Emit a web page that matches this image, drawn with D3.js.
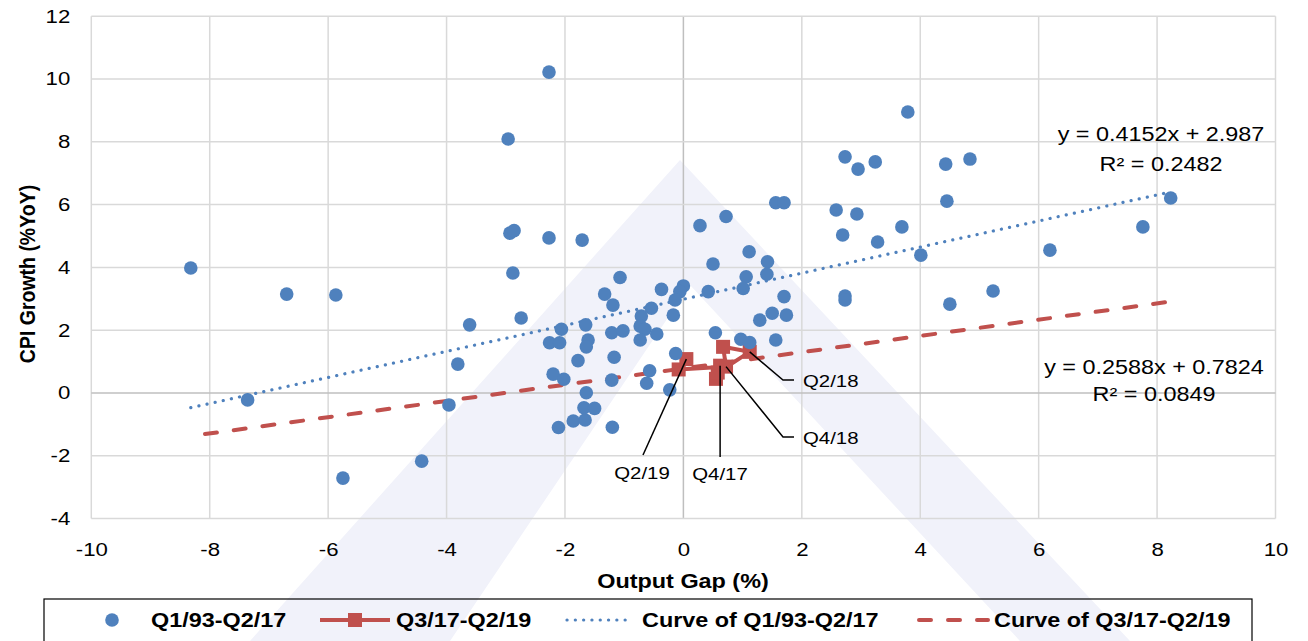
<!DOCTYPE html>
<html>
<head>
<meta charset="utf-8">
<script src="https://cdnjs.cloudflare.com/ajax/libs/d3/7.8.5/d3.min.js"></script>
<style>
  body { margin: 0; background: #fff; }
  svg text { font-family: "Liberation Sans", Arial, sans-serif; fill: #000; }
</style>
</head>
<body>
<div id="chart"></div>
<script>
// Q1/93-Q2/17: output gap (x) and CPI growth (y)
const gapOld = [-8.32, -6.70, -5.87, -7.36, -5.75, -4.42, -3.96, -3.81, -3.61, -2.27, -2.96, -2.93, -2.86, -2.27, -1.71, -2.88, -2.74,
  -2.06, -2.26, -2.09, -1.65, -1.61, -1.64, -1.78, -2.20, -2.02, -1.64, -1.68, -1.50, -1.86, -1.66, -2.11, -1.33,
  -1.07, -1.19, -0.37, 0.00, -0.06, -0.14, -0.17, 0.42, 0.50, -0.54, -0.71, -0.73, -1.21, -1.02, -0.65, -0.45, -0.73, -1.17, -0.13, -1.21, -0.57, -0.62, -0.23, 0.54, -1.20,
  1.56, 1.70, 0.72, 0.28, 1.11, 1.42, 1.41, 1.06, 1.01, 1.70, 1.50, 1.74, 1.29, 0.97, 1.12, 1.56,
  3.79, 2.73, 3.24, 2.95, 4.43, 4.84, 2.58, 2.93, 2.69, 3.28, 3.69, 4.45, 4.01, 6.19, 7.76, 8.23, 5.23, 4.50, 2.73, 2.73];
const cpiOld = [3.98, 3.15, 3.12, -0.22, -2.71, -2.17, -0.38, 0.92, 2.17, 10.22, 8.09, 5.09, 5.17, 4.94, 4.87, 3.82, 2.39,
  2.03, 1.60, 1.60, 2.17, 1.69, 1.47, 1.03, 0.60, 0.44, 0.01, -0.47, -0.49, -0.89, -0.86, -1.10, 3.15,
  3.68, 2.80, 3.30, 3.41, 3.23, 2.96, 2.48, 3.23, 4.11, 2.70, 2.45, 2.13, 1.92, 1.98, 2.03, 1.88, 1.69, 1.14, 1.26, 0.41, 0.71, 0.31, 0.10, 1.92, -1.09,
  6.06, 6.06, 5.62, 5.33, 4.50, 4.18, 3.78, 3.70, 3.33, 3.07, 2.54, 2.48, 2.32, 1.71, 1.61, 1.69,
  8.95, 7.52, 7.36, 7.13, 7.29, 7.45, 5.83, 5.70, 5.03, 4.81, 5.29, 6.11, 4.39, 4.55, 5.29, 6.21, 3.25, 2.83, 3.09, 2.96];

// Q3/17-Q2/19
const quarters = ["Q3/17", "Q4/17", "Q1/18", "Q2/18", "Q3/18", "Q4/18", "Q1/19", "Q2/19"];
const gapNew = [0.55, 0.62, 0.58, 1.12, 0.67, 0.72, -0.08, 0.05];
const cpiNew = [0.45, 0.87, 0.65, 1.31, 1.47, 0.84, 0.75, 1.08];

// trendlines (old, new)
const trendSlope = [0.4152, 0.2588];
const trendIntercept = [2.987, 0.7824];
const trendR2 = ["0.2482", "0.0849"];
const trendFrom = [-8.32, -8.08];
const trendTo = [8.23, 8.18];

const xTicks = [-10, -8, -6, -4, -2, 0, 2, 4, 6, 8, 10];
const yTicks = [-4, -2, 0, 2, 4, 6, 8, 10, 12];
const legendNames = ["Q1/93-Q2/17", "Q3/17-Q2/19", "Curve of Q1/93-Q2/17", "Curve of Q3/17-Q2/19"];
const notedQuarters = ["Q2/18", "Q4/18", "Q4/17", "Q2/19"];

const W = 1308, H = 641;
const SX = 1.2; // text in the picture is stretched horizontally
const blue = "#4f81bd", red = "#c0504d";

let svg = d3.select("#chart").append("svg")
  .attr("width", W).attr("height", H);

let x = d3.scaleLinear().domain([-10, 10]).range([91.3, 1275.5]);
let y = d3.scaleLinear().domain([-4, 12]).range([518.6, 16.2]);

function stretchText(sel, px, py) {
  sel.attr("transform", `translate(${px},${py}) scale(${SX},1)`);
}

// watermark (faint logo)
let wm = svg.append("g").attr("fill", "#f1f2fa");
wm.append("path")
  .attr("d", "M250,641 L680,160 L1130,641 L1020,641 L690,285 L450,641 Z");

// gridlines
svg.append("g").selectAll("line").data(xTicks).enter().append("line")
  .attr("x1", d => x(d)).attr("x2", d => x(d))
  .attr("y1", y(12)).attr("y2", y(-4))
  .attr("stroke", d => d === 0 ? "#bfbfbf" : "#d9d9d9").attr("stroke-width", 1.5);
svg.append("g").selectAll("line").data(yTicks).enter().append("line")
  .attr("y1", d => y(d)).attr("y2", d => y(d))
  .attr("x1", x(-10)).attr("x2", x(10))
  .attr("stroke", d => d === 0 ? "#bfbfbf" : "#d9d9d9").attr("stroke-width", 1.5);

// axes (labels only)
let xAxis = svg.append("g")
  .attr("transform", `translate(0,${y(-4)})`)
  .call(d3.axisBottom(x).tickValues(xTicks).tickFormat(d => String(d)).tickSize(0).tickPadding(24));
let yAxis = svg.append("g")
  .attr("transform", `translate(${x(-10)},0)`)
  .call(d3.axisLeft(y).tickValues(yTicks).tickFormat(d => String(d)).tickSize(0).tickPadding(0));
[xAxis, yAxis].forEach(a => {
  a.select(".domain").remove();
  a.selectAll("text").style("font-size", "18.5px").attr("fill", "#000")
    .style("font-family", "'Liberation Sans', Arial, sans-serif");
});
xAxis.selectAll("text").attr("transform", `scale(${SX},1)`);
yAxis.selectAll("text").attr("x", -21 / SX).attr("transform", `scale(${SX},1)`);

// axis titles
svg.append("text")
  .attr("text-anchor", "middle")
  .style("font-size", "19.5px").style("font-weight", "bold")
  .text("Output Gap (%)")
  .call(stretchText, 683, 588);
svg.append("text")
  .attr("text-anchor", "middle")
  .attr("transform", "translate(35,274) rotate(-90) scale(1,1.15)")
  .style("font-size", "19.5px").style("font-weight", "bold")
  .text("CPI Growth (%YoY)");

// trendlines
let trendStyle = [
  { color: blue, width: 3.2, dash: "0.1,8.2", cap: "round" },
  { color: red, width: 4, dash: "12,17", cap: "round" }
];
trendSlope.forEach((m, i) => {
  let f = v => m * v + trendIntercept[i];
  svg.append("line")
    .attr("x1", x(trendFrom[i])).attr("y1", y(f(trendFrom[i])))
    .attr("x2", x(trendTo[i])).attr("y2", y(f(trendTo[i])))
    .attr("stroke", trendStyle[i].color)
    .attr("stroke-width", trendStyle[i].width)
    .attr("stroke-dasharray", trendStyle[i].dash)
    .attr("stroke-linecap", trendStyle[i].cap);
});

// Q3/17-Q2/19 series
let newData = quarters.map((q, i) => ({ q: q, gap: gapNew[i], cpi: cpiNew[i] }));
svg.append("path")
  .datum(newData)
  .attr("fill", "none").attr("stroke", red).attr("stroke-width", 4)
  .attr("d", d3.line().x(d => x(d.gap)).y(d => y(d.cpi)));
svg.selectAll(".sq").data(newData).enter().append("rect")
  .attr("class", "sq")
  .attr("x", d => x(d.gap) - 7).attr("y", d => y(d.cpi) - 7)
  .attr("width", 14).attr("height", 14)
  .attr("fill", red);

// Q1/93-Q2/17 series
let oldData = gapOld.map((g, i) => ({ gap: g, cpi: cpiOld[i] }));
svg.selectAll(".dot").data(oldData).enter().append("circle")
  .attr("class", "dot")
  .attr("cx", d => x(d.gap)).attr("cy", d => y(d.cpi))
  .attr("r", 6.8).attr("fill", blue);

// quarter call-outs: elbow point, label anchor
let noteLayout = {
  "Q2/18": { path: [[783, 380], [794, 380]], tx: 803, ty: 387, anchor: "start" },
  "Q4/18": { path: [[783, 437], [794, 437]], tx: 803, ty: 444, anchor: "start" },
  "Q4/17": { path: [[null, 457]], tx: 720, ty: 480, anchor: "middle" },
  "Q2/19": { path: [[643, 455]], tx: 642, ty: 479, anchor: "middle" }
};
notedQuarters.forEach(q => {
  let d = newData.find(e => e.q === q);
  let L = noteLayout[q];
  let px = x(d.gap), py = y(d.cpi);
  let pts = [[px, py]].concat(L.path.map(p => [p[0] === null ? px : p[0], p[1]]));
  svg.append("path")
    .attr("d", d3.line()(pts))
    .attr("fill", "none").attr("stroke", "#000").attr("stroke-width", 1.5);
  svg.append("text")
    .attr("text-anchor", L.anchor)
    .style("font-size", "17px")
    .text(q)
    .call(stretchText, L.tx, L.ty);
});

// equations
let eqPos = [[1161, 141, 171], [1154, 374, 401]];
trendSlope.forEach((m, i) => {
  let eq = `y = ${m}x + ${trendIntercept[i]}`;
  svg.append("text").attr("text-anchor", "middle").style("font-size", "19.5px")
    .text(eq).call(stretchText, eqPos[i][0], eqPos[i][1]);
  svg.append("text").attr("text-anchor", "middle").style("font-size", "19.5px")
    .text(`R² = ${trendR2[i]}`).call(stretchText, eqPos[i][0], eqPos[i][2]);
});

// legend
let lg = svg.append("g");
lg.append("rect")
  .attr("x", 44).attr("y", 599).attr("width", 1208).attr("height", 60)
  .attr("fill", "none").attr("stroke", "#000").attr("stroke-width", 1.2);
let ly = 620;
lg.append("circle").attr("cx", 112).attr("cy", ly).attr("r", 6.8).attr("fill", blue);
lg.append("line").attr("x1", 320).attr("x2", 390).attr("y1", ly).attr("y2", ly)
  .attr("stroke", red).attr("stroke-width", 4);
lg.append("rect").attr("x", 348).attr("y", ly - 7).attr("width", 14).attr("height", 14).attr("fill", red);
lg.append("line").attr("x1", 567).attr("x2", 630).attr("y1", ly).attr("y2", ly)
  .attr("stroke", blue).attr("stroke-width", 3.2)
  .attr("stroke-dasharray", "0.1,8.2").attr("stroke-linecap", "round");
lg.append("line").attr("x1", 919).attr("x2", 988).attr("y1", ly).attr("y2", ly)
  .attr("stroke", red).attr("stroke-width", 4)
  .attr("stroke-dasharray", "12,17").attr("stroke-linecap", "round");
let legendX = [151, 396, 642, 994];
legendNames.forEach((n, i) => {
  lg.append("text")
    .style("font-size", "19.5px").style("font-weight", "bold")
    .text(n)
    .call(stretchText, legendX[i], 627);
});
</script>
</body>
</html>
